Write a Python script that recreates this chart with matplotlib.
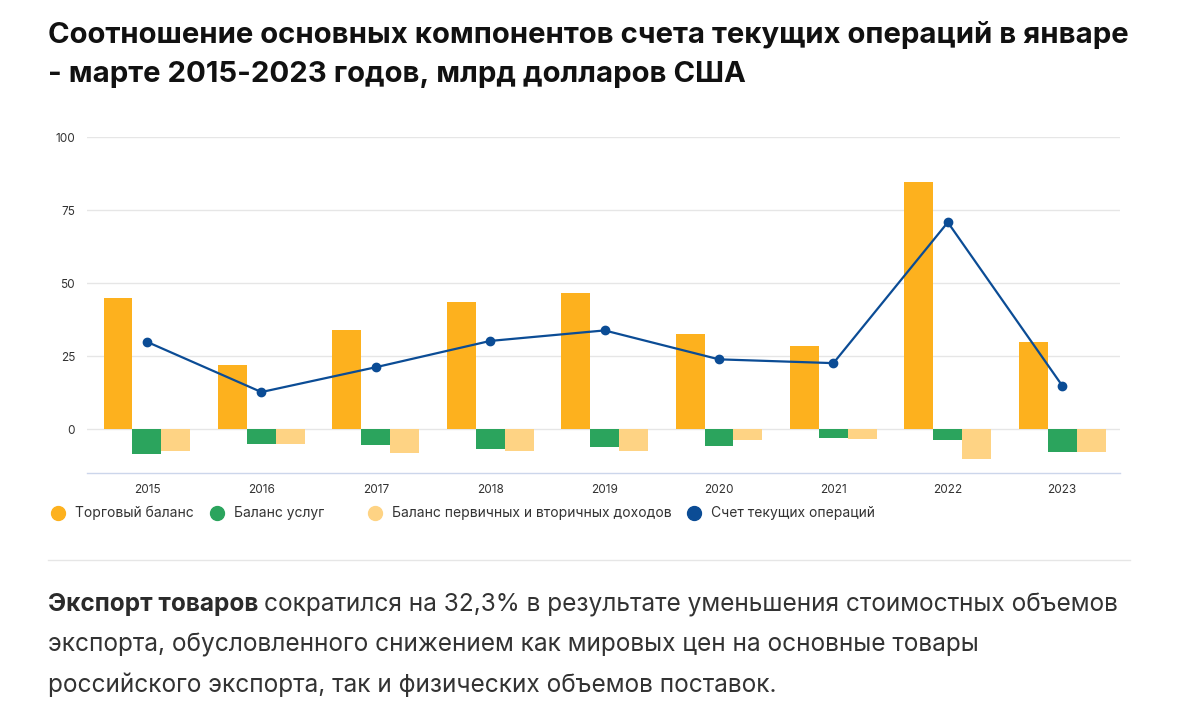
import matplotlib.pyplot as plt
import numpy as np
from matplotlib.lines import Line2D

# Данные (млрд долларов США, январь-март)
years = ['2015', '2016', '2017', '2018', '2019', '2020', '2021', '2022', '2023']
trade_balance = [45.0, 22.1, 34.1, 43.6, 46.7, 32.7, 28.3, 84.5, 30.0]
services_balance = [-8.5, -5.1, -5.5, -6.9, -6.1, -5.8, -3.1, -3.8, -7.9]
income_balance = [-7.5, -5.1, -8.2, -7.3, -7.5, -3.8, -3.4, -10.3, -7.9]
current_account = [29.9, 12.7, 21.2, 30.2, 33.8, 23.9, 22.6, 70.8, 14.9]

y_ticks = [0, 25, 50, 75, 100]
legend_labels = ['Торговый баланс', 'Баланс услуг',
                 'Баланс первичных и вторичных доходов', 'Счет текущих операций']

c_trade = '#FDB11E'
c_serv = '#2BA45D'
c_inc = '#FED384'
c_line = '#0B4C95'

plt.rcParams['font.family'] = ['Inter', 'DejaVu Sans']

W, H = 1197, 721
fig = plt.figure(figsize=(W / 100, H / 100), dpi=100)

# область графика в пикселях
left, right, top, bottom = 87, 1120, 137, 473
ax = fig.add_axes([left / W, 1 - bottom / H, (right - left) / W, (bottom - top) / H])

x = np.arange(len(years))
bw = 0.253
ax.bar(x - bw, trade_balance, bw, color=c_trade, zorder=2)
ax.bar(x, services_balance, bw, color=c_serv, zorder=2)
ax.bar(x + bw, income_balance, bw, color=c_inc, zorder=2)
ax.plot(x, current_account, color=c_line, lw=1.6, marker='o', ms=6, zorder=3)

ax.set_xlim(-0.524, 8.505)
ax.set_ylim(-15, 100)
ax.set_yticks(y_ticks)
ax.set_xticks(x)
ax.set_xticklabels(years)
ax.tick_params(length=0, labelsize=8.5, labelcolor='#333333')
ax.tick_params(axis='y', pad=8.6)
ax.tick_params(axis='x', pad=8)
ax.grid(axis='y', color='#E6E6E6', lw=1, zorder=0)
for s in ['top', 'right', 'left']:
    ax.spines[s].set_visible(False)
ax.spines['bottom'].set_color('#CCD6EB')
ax.spines['bottom'].set_linewidth(1)

# заголовок
fig.text(48 / W, 1 - 35 / H, 'Соотношение основных компонентов счета текущих операций в январе',
         fontsize=21.1, fontweight='bold', color='#111111', va='center')
fig.text(48 / W, 1 - 75 / H, '- марте 2015-2023 годов, млрд долларов США',
         fontsize=21.1, fontweight='bold', color='#111111', va='center')

# легенда
leg_x = [58, 217, 375, 694]
leg_c = [c_trade, c_serv, c_inc, c_line]
for lx, lc, lt in zip(leg_x, leg_c, legend_labels):
    fig.add_artist(Line2D([lx / W], [1 - 513 / H], marker='o', ms=10, color=lc, lw=0))
    fig.text((lx + 17) / W, 1 - 513 / H, lt, fontsize=10, color='#333333', va='center')

# разделитель
fig.add_artist(Line2D([48 / W, 1130 / W], [1 - 560 / H, 1 - 560 / H], color='#E6E6E6', lw=1))

# текст под графиком
fig.canvas.draw()
r = fig.canvas.get_renderer()
t_bold = fig.text(48 / W, 1 - 605 / H, 'Экспорт товаров', fontsize=17.6, fontweight='bold',
                  color='#2B2B2B', va='center')
bb = t_bold.get_window_extent(renderer=r)
fig.text((bb.x1 + 6) / W, 1 - 605 / H,
         'сократился на 32,3% в результате уменьшения стоимостных объемов',
         fontsize=17.6, color='#333333', va='center')
fig.text(48 / W, 1 - 645 / H,
         'экспорта, обусловленного снижением как мировых цен на основные товары',
         fontsize=17.6, color='#333333', va='center')
fig.text(48 / W, 1 - 685 / H,
         'российского экспорта, так и физических объемов поставок.',
         fontsize=17.6, color='#333333', va='center')

fig.savefig('out.png', dpi=100, facecolor='white')
